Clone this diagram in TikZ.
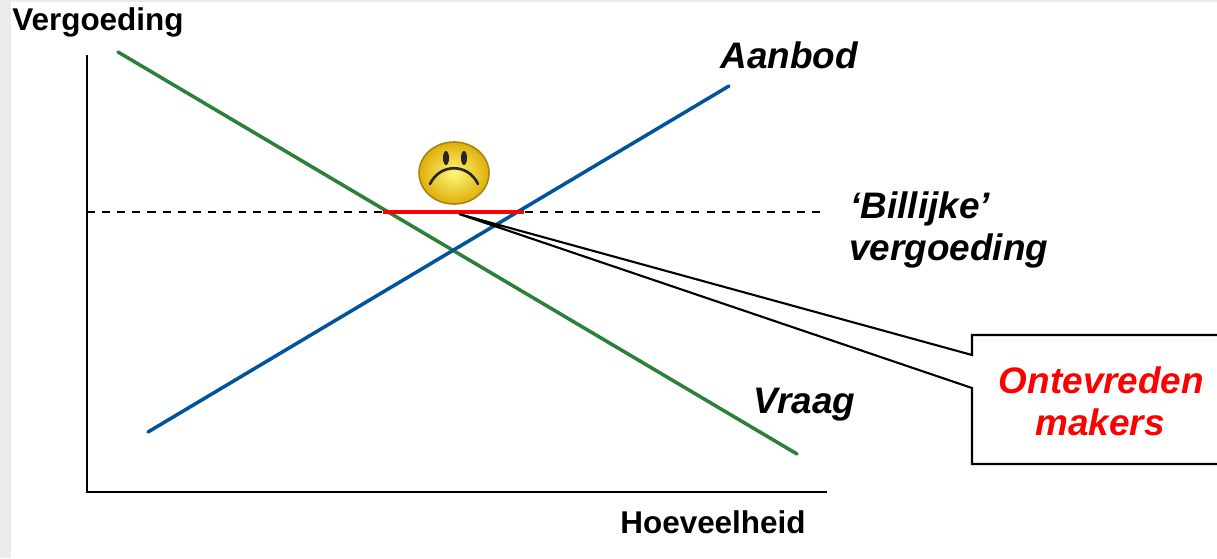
\documentclass[tikz,border=0pt]{standalone}
\usepackage{fontspec}
\setmainfont{Liberation Sans}
\usetikzlibrary{calc}
\definecolor{vraaggreen}{RGB}{44,128,58}
\definecolor{aanbodblue}{RGB}{0,84,155}
\definecolor{panelgrey}{RGB}{234,235,234}
\definecolor{smileyin}{RGB}{255,246,120}
\definecolor{smileyout}{RGB}{222,176,10}
\definecolor{smileyrim}{RGB}{170,130,20}

\begin{document}
\begin{tikzpicture}[x=0.02cm, y=-0.02cm,
	axislabel/.style={font=\fontsize{17.9}{21}\selectfont\bfseries, inner sep=0pt, anchor=base west},
	curvelabel/.style={font=\fontsize{21}{24}\selectfont\bfseries\itshape, inner sep=0pt, anchor=base west},
	curve/.style={line width=2pt, line cap=round}]
			%%%%% START %%%%%
			
			\fill[white] (0, 0) rectangle (1217, 558);
			\fill[panelgrey] (0, 0) rectangle (11, 558);
			\fill[panelgrey] (0, 0) rectangle (1217, 1.5);
			\useasboundingbox (0, 0) rectangle (1217, 558);
			
			\coordinate (ytop) at (87, 55);
			\coordinate (origin) at (87, 492);
			\coordinate (xend) at (827, 492);
			\coordinate (vraagstart) at (118, 52);
			\coordinate (vraagend) at (797, 454);
			\coordinate (aanbodstart) at (148, 432);
			\coordinate (aanbodend) at (729, 86);
			\coordinate (billijkstart) at (87, 212);
			\coordinate (billijkend) at (826, 212);
			\coordinate (gapstart) at (383, 212);
			\coordinate (gapend) at (524, 212);
			\coordinate (tip) at (459, 214);
			
			% labels
			\node[axislabel] (ylabel) at (12, 30) {Vergoeding};
			\node[axislabel] (xlabel) at (620, 533) {Hoeveelheid};
			\node[curvelabel] (aanbod) at (720, 68) {Aanbod};
			\node[curvelabel] (vraag) at (753, 413) {Vraag};
			\node[curvelabel] (billijk) at (850, 218) {‘Billijke’};
			\node[curvelabel] (vergoed) at (849, 260) {vergoeding};
			
			% axes and lines
			\draw[line width=1.3pt] (ytop) -- (origin) -- (xend);
			\draw[line width=1.2pt, dash pattern=on 4.6pt off 4pt] (billijkstart) -- (billijkend);
			\draw[curve, color=vraaggreen] (vraagstart) -- (vraagend);
			\draw[curve, color=aanbodblue] (aanbodstart) -- (aanbodend);
			\draw[line width=2.6pt, color=red] (gapstart) -- (gapend);
			
			% callout
			\draw[line width=1.2pt] (1222, 335) -- (972, 335) -- (972, 355) -- (tip) -- (972, 388) -- (972, 464) -- (1222, 464);
			\node[curvelabel, anchor=base, color=red] (ontevreden) at (1101.5, 393) {Ontevreden};
			\node[curvelabel, anchor=base, color=red] (makers) at (1100, 435) {makers};
			
			% smiley
			\shade[inner color=smileyin, outer color=smileyout] (454, 173) ellipse (35 and 31);
			\draw[line width=0.9pt, color=smileyrim] (454, 173) ellipse (35 and 31);
			\fill[black!85] (446, 158) ellipse (3 and 7);
			\fill[black!85] (464, 158) ellipse (3 and 7);
			\draw[line width=1.5pt, color=black!85, line cap=round] (430, 184) .. controls (440, 163) and (468, 163) .. (478, 184);
			
			%%%%% END %%%%%
\end{tikzpicture}
\end{document}
